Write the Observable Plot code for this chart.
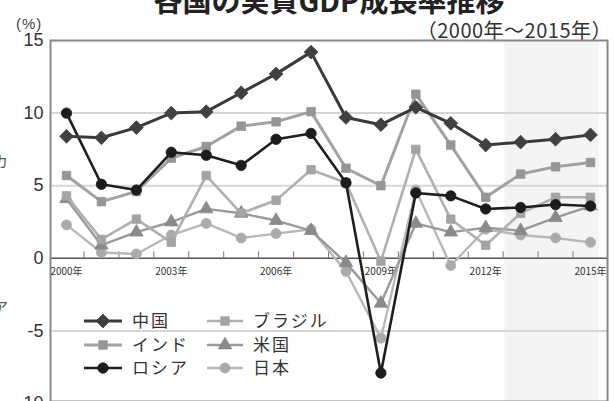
<!DOCTYPE html>
<html>
<head>
<meta charset="utf-8">
<script src="https://cdn.jsdelivr.net/npm/d3@7"></script>
<script src="https://cdn.jsdelivr.net/npm/@observablehq/plot@0.6"></script>
<style>
  html, body { margin: 0; padding: 0; background: #fff; }
  #wrap { position: relative; width: 614px; height: 401px; overflow: hidden; background: #fff; }
  #wrap > svg { position: absolute; left: 0; top: 0; }
  #overlay { position: absolute; left: 0; top: 0; pointer-events: none; }
</style>
</head>
<body>
<div id="wrap"></div>
<script>
// ---- data ----
const years   = [2000,2001,2002,2003,2004,2005,2006,2007,2008,2009,2010,2011,2012,2013,2014,2015];
const china   = [8.4, 8.3, 9.0, 10.0, 10.1, 11.4, 12.7, 14.2, 9.7, 9.2, 10.4, 9.3, 7.8, 8.0, 8.2, 8.5];
const india   = [5.7, 3.9, 4.6, 6.9, 7.7, 9.1, 9.4, 10.1, 6.2, 5.0, 11.3, 7.8, 4.2, 5.8, 6.3, 6.6];
const russia  = [10.0, 5.1, 4.7, 7.3, 7.1, 6.4, 8.2, 8.6, 5.2, -7.9, 4.5, 4.3, 3.4, 3.5, 3.7, 3.6];
const brazil  = [4.3, 1.3, 2.7, 1.1, 5.7, 3.1, 4.0, 6.1, 5.2, -0.2, 7.5, 2.7, 0.9, 3.1, 4.2, 4.2];
const usa     = [4.1, 0.9, 1.8, 2.5, 3.4, 3.1, 2.6, 1.9, -0.3, -3.1, 2.4, 1.8, 2.1, 1.9, 2.8, 3.6];
const japan   = [2.3, 0.4, 0.3, 1.6, 2.4, 1.4, 1.7, 2.0, -0.9, -5.5, 4.7, -0.5, 2.0, 1.6, 1.4, 1.1];
const seriesNames = ["中国", "インド", "ロシア", "ブラジル", "米国", "日本"];
const xTickYears  = [2000, 2003, 2006, 2009, 2012, 2015];
const yTicks      = [-10, -5, 0, 5, 10, 15];
const gridValues  = [10, 5, -5];
const shadeSpan   = [2012.55, 2015.25];
const titleText    = "各国の実質GDP成長率推移";
const subtitleText = "（2000年～2015年）";
const unitText     = "(%)";

// ---- styles ----
const styles = {
  "中国":   {line: "#3a3a3a", fill: "#404040", symbol: "diamond2", r: 6.2, sw: 3},
  "インド": {line: "#a2a2a2", fill: "#959595", symbol: "square",   r: 4.8, sw: 3},
  "ロシア": {line: "#1e1e1e", fill: "#1c1c1c", symbol: "circle",   r: 5.2, sw: 2.6},
  "ブラジル": {line: "#b0b0b0", fill: "#a4a4a4", symbol: "square", r: 4.8, sw: 2.6},
  "米国":   {line: "#9a9a9a", fill: "#8a8a8a", symbol: "triangle", r: 5.0, sw: 2.4},
  "日本":   {line: "#b8b8b8", fill: "#ababab", symbol: "circle",   r: 5.0, sw: 2.4}
};
const valuesBy = {"中国": china, "インド": india, "ロシア": russia, "ブラジル": brazil, "米国": usa, "日本": japan};
const rows = seriesNames.flatMap(s => years.map((y, i) => ({series: s, year: y, value: valuesBy[s][i]})));
const halfYears = years.slice(0, -1).map(y => y + 0.5);
const drawOrder = ["日本", "米国", "ブラジル", "インド", "ロシア", "中国"];

function seriesMarks(name) {
  const st = styles[name];
  const d = rows.filter(r => r.series === name);
  return [
    Plot.line(d, {x: "year", y: "value", stroke: st.line, strokeWidth: st.sw, strokeLinejoin: "round"}),
    Plot.dot(d, {x: "year", y: "value", symbol: st.symbol, r: st.r, fill: st.fill, stroke: st.fill, strokeWidth: 0.8})
  ];
}

const chart = Plot.plot({
  width: 614,
  height: 401,
  marginLeft: 50,
  marginRight: 7,
  marginTop: 40,
  marginBottom: 0,
  style: {background: "transparent", fontFamily: "'Liberation Sans', Arial, sans-serif", fontSize: "18px", color: "#333"},
  x: {domain: [2000, 2015], range: [66, 590], axis: null},
  y: {domain: [-10, 15], range: [403, 40], ticks: yTicks, tickSize: 0, tickPadding: 7, tickFormat: d => String(d), label: null},
  marks: [
    Plot.rect([shadeSpan], {x1: d => d[0], x2: d => d[1], y1: -10, y2: 15, fill: "#f4f4f4"}),
    Plot.ruleY(gridValues, {stroke: "#d6d6d6", strokeWidth: 2}),
    Plot.ruleY([0], {stroke: "#555", strokeWidth: 1.6}),
    Plot.ruleX(halfYears, {y1: 0, y2: 0.45, stroke: "#777", strokeWidth: 1}),
    Plot.frame({stroke: "#888", strokeWidth: 2}),
    Plot.text(xTickYears, {x: d => d, y: 0, dy: 13, text: d => d + "年", fontSize: 10, fill: "#333", fontFamily: "'Noto Sans CJK JP', sans-serif"}),
    ...drawOrder.flatMap(seriesMarks)
  ]
});
const wrap = document.getElementById("wrap");
wrap.appendChild(chart);

// ---- overlay: title, subtitle, unit, legend ----
const ov = d3.select(wrap).append("svg").attr("id", "overlay").attr("width", 614).attr("height", 401);
const jp = "'Noto Sans CJK JP', sans-serif";
ov.append("text").attr("x", 329).attr("y", 12).attr("text-anchor", "middle")
  .attr("font-family", jp).attr("font-weight", "bold").attr("font-size", 29).attr("fill", "#222").text(titleText);
ov.append("text").attr("x", 612).attr("y", 38).attr("text-anchor", "end")
  .attr("font-family", jp).attr("font-size", 20).attr("letter-spacing", 0.5).attr("fill", "#333").text(subtitleText);
ov.append("text").attr("x", 16).attr("y", 29)
  .attr("font-family", "'Liberation Sans', Arial, sans-serif").attr("font-size", 15).attr("letter-spacing", 1).attr("fill", "#444").text(unitText);
// partial glyphs of neighbouring text at the far left edge
ov.append("text").attr("x", -7).attr("y", 167).attr("font-family", jp).attr("font-size", 15).attr("fill", "#555").text("カ");
ov.append("text").attr("x", -7).attr("y", 313).attr("font-family", jp).attr("font-size", 15).attr("fill", "#555").text("ア");

const legendCols = [{x0: 84, x1: 122, tx: 132}, {x0: 207, x1: 243, tx: 253}];
const legendRows = [321, 345, 368];
seriesNames.forEach((name, i) => {
  const col = legendCols[Math.floor(i / 3)];
  const yy = legendRows[i % 3];
  const st = styles[name];
  const g = ov.append("g");
  g.append("line").attr("x1", col.x0).attr("x2", col.x1).attr("y1", yy).attr("y2", yy)
    .attr("stroke", st.line).attr("stroke-width", st.sw);
  const sym = {diamond2: d3.symbolDiamond2, square: d3.symbolSquare, circle: d3.symbolCircle, triangle: d3.symbolTriangle}[st.symbol];
  g.append("path").attr("d", d3.symbol(sym, Math.PI * st.r * st.r)())
    .attr("transform", `translate(${(col.x0 + col.x1) / 2},${yy})`)
    .attr("fill", st.fill).attr("stroke", st.fill).attr("stroke-width", 0.8);
  g.append("text").attr("x", col.tx).attr("y", yy + 6).attr("font-family", jp).attr("font-size", 17)
    .attr("letter-spacing", 2).attr("fill", "#333").text(name);
});
</script>
</body>
</html>
